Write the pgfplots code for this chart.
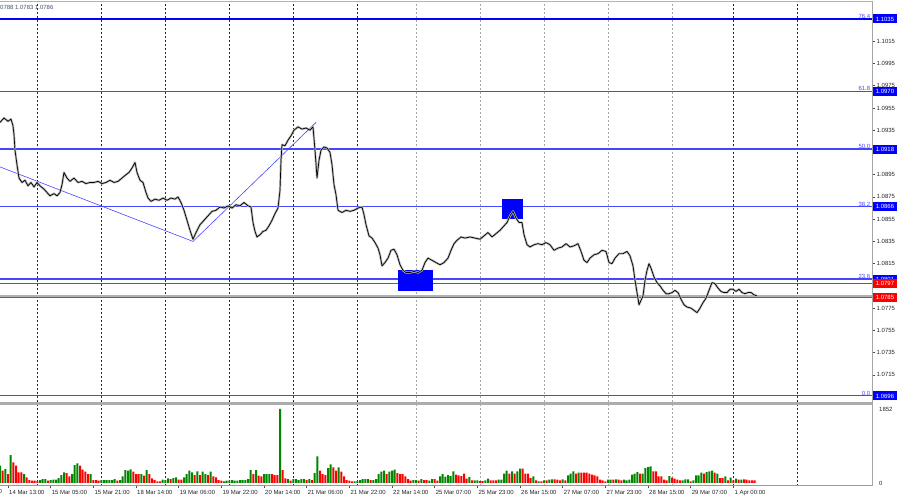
\documentclass[border=0pt]{standalone}
\usepackage{pgfplots}
\pgfplotsset{compat=1.18}
\usepackage{fontspec}
\setmainfont{Liberation Sans}
\definecolor{mtblue}{RGB}{0,0,255}
\definecolor{mtblueL}{RGB}{70,70,255}
\definecolor{mtred}{RGB}{255,30,30}
\definecolor{volgreen}{RGB}{0,135,0}
\definecolor{volred}{RGB}{255,0,0}
\definecolor{hdr}{RGB}{70,80,110}
\begin{document}
\begin{tikzpicture}[x=1bp,y=1bp]
\useasboundingbox (0,0) rectangle (900,500);
\fill[white] (0,0) rectangle (900,500);
\begin{axis}[
  at={(0bp,98bp)}, anchor=south west, scale only axis, width=872bp, height=400bp,
  xmin=0, xmax=872, ymin=1.069061, ymax=1.105029,
  axis line style={draw=none},
  xtick=\empty,
  ytick={1.0715,1.0735,1.0755,1.0775,1.0815,1.0835,1.0855,1.0875,1.0895,1.0935,1.0955,1.0975,1.0995,1.1015},
  ytick pos=right, yticklabel pos=right,
  tick align=outside, major tick length=3bp,
  tick style={black!70, line width=0.5bp},
  scaled y ticks=false,
  yticklabel style={font=\fontsize{6}{7}\selectfont, text=black!85, inner sep=1.5bp},
  /pgf/number format/fixed, /pgf/number format/fixed zerofill, /pgf/number format/precision=4,
  /pgf/number format/assume math mode=true,
  clip=false,
]
% day separators
\pgfplotsinvokeforeach{37,101,165,229,293,357,733,797}{
  \draw[black!85, line width=0.7bp, dash pattern=on 2bp off 2bp] (axis cs:#1,1.069061) -- (axis cs:#1,1.105029);}
\pgfplotsinvokeforeach{416,480,544,608,672}{
  \draw[gray!70, line width=0.7bp, dash pattern=on 2bp off 2bp] (axis cs:#1,1.069061) -- (axis cs:#1,1.105029);}
% fibonacci levels
\addplot[mtblue, line width=1.3bp] coordinates {(0,1.1035) (872,1.1035)};
\addplot[mtblueL, line width=1bp] coordinates {(0,1.0970) (872,1.0970)};
\addplot[mtblueL, line width=2.4bp] coordinates {(0,1.0918) (872,1.0918)};
\addplot[mtblueL, line width=1bp] coordinates {(0,1.0866) (872,1.0866)};
\addplot[mtblueL, line width=2.4bp] coordinates {(0,1.0801) (872,1.0801)};
\addplot[mtblueL, line width=1bp] coordinates {(0,1.0696) (872,1.0696)};
\addplot[gray!60, line width=1.2bp] coordinates {(0,1.0786) (872,1.0786)};
\addplot[mtred, line width=0.8bp] coordinates {(0,1.0785) (872,1.0785)};
\addplot[mtred, line width=0.8bp] coordinates {(0,1.0797) (872,1.0797)};
% blue boxes
\fill[blue] (axis cs:398,1.0790) rectangle (axis cs:433,1.0809);
\fill[blue] (axis cs:502,1.0855) rectangle (axis cs:523,1.0873);
% trend lines
\addplot[mtblueL, line width=0.6bp] coordinates {(0,1.0902) (193,1.0835) (316,1.0942)};
% price
\pgfplotstableread{
x p
0 1.0942
4 1.0946
8 1.0943
11 1.0945
13 1.0939
14 1.0931
15 1.0917
17 1.0904
19 1.0892
22 1.0888
25 1.0890
28 1.0885
31 1.0888
34 1.0884
37 1.0888
40 1.0885
44 1.0882
47 1.0879
50 1.0876
54 1.0878
57 1.0876
60 1.0879
62 1.0886
64 1.0897
67 1.0892
70 1.0889
74 1.0892
78 1.0888
82 1.0889
86 1.0887
90 1.0888
94 1.0888
98 1.0889
102 1.0887
106 1.0888
110 1.0890
114 1.0888
118 1.0889
122 1.0892
126 1.0895
129 1.0897
132 1.0901
135 1.0906
137 1.0897
140 1.0890
143 1.0888
146 1.0879
148 1.0874
151 1.0871
155 1.0873
159 1.0872
163 1.0874
167 1.0872
171 1.0874
175 1.0873
178 1.0875
181 1.0870
184 1.0863
187 1.0854
190 1.0845
193 1.0837
196 1.0843
200 1.0850
204 1.0854
208 1.0858
212 1.0862
216 1.0863
220 1.0866
224 1.0865
228 1.0867
232 1.0865
236 1.0868
240 1.0867
244 1.0870
248 1.0867
251 1.0866
253 1.0852
255 1.0844
257 1.0839
260 1.0841
263 1.0844
266 1.0845
269 1.0849
272 1.0854
275 1.0860
278 1.0865
280 1.0881
281 1.0908
282 1.0922
285 1.0921
288 1.0926
291 1.0930
294 1.0935
298 1.0938
302 1.0936
306 1.0937
310 1.0935
313 1.0938
315 1.0917
317 1.0892
319 1.0908
321 1.0917
324 1.0920
327 1.0919
330 1.0915
332 1.0904
334 1.0886
336 1.0877
338 1.0863
342 1.0861
346 1.0863
350 1.0862
354 1.0863
358 1.0865
362 1.0866
364 1.0859
366 1.0850
369 1.0840
372 1.0838
375 1.0834
378 1.0829
380 1.0823
382 1.0813
385 1.0816
388 1.0820
391 1.0827
394 1.0828
397 1.0823
400 1.0814
403 1.0809
406 1.0807
410 1.0807
414 1.0808
418 1.0807
422 1.0809
425 1.0816
428 1.0820
432 1.0818
436 1.0816
440 1.0814
444 1.0816
448 1.0820
451 1.0827
454 1.0833
457 1.0836
461 1.0839
465 1.0838
470 1.0839
475 1.0838
480 1.0837
484 1.0840
488 1.0843
492 1.0839
496 1.0842
500 1.0845
504 1.0849
507 1.0852
510 1.0858
513 1.0862
516 1.0856
519 1.0852
522 1.0852
524 1.0841
527 1.0832
530 1.0830
534 1.0832
538 1.0833
542 1.0832
546 1.0834
550 1.0832
554 1.0827
558 1.0829
562 1.0830
566 1.0833
570 1.0830
574 1.0831
578 1.0833
581 1.0826
584 1.0818
587 1.0816
590 1.0820
594 1.0823
598 1.0824
602 1.0827
606 1.0826
609 1.0816
612 1.0815
615 1.0820
619 1.0824
623 1.0824
627 1.0826
630 1.0822
633 1.0813
635 1.0800
637 1.0789
639 1.0778
641 1.0782
643 1.0786
645 1.0800
647 1.0809
649 1.0815
651 1.0811
654 1.0803
657 1.0798
660 1.0795
663 1.0791
666 1.0788
669 1.0788
672 1.0789
675 1.0791
678 1.0789
681 1.0783
684 1.0778
687 1.0776
691 1.0775
694 1.0773
697 1.0771
700 1.0775
703 1.0780
706 1.0784
709 1.0791
712 1.0798
715 1.0797
718 1.0793
721 1.0790
724 1.0789
727 1.0789
730 1.0792
733 1.0792
736 1.0790
739 1.0792
742 1.0789
745 1.0788
748 1.0789
751 1.0789
754 1.0787
757 1.0786
}\pricetable
\addplot[gray!55, line width=2.2bp, line join=round] table[x=x,y=p] {\pricetable};
\addplot[black, line width=0.7bp, line join=round] table[x=x,y=p] {\pricetable};
% fib labels
\begin{scope}[every node/.style={anchor=south east, inner sep=0.6bp, text=mtblueL, font=\fontsize{6}{7}\selectfont}]
\node at (axis cs:871,1.1035) {76.4};
\node at (axis cs:871,1.0970) {61.8};
\node at (axis cs:871,1.0918) {50.0};
\node at (axis cs:871,1.0866) {38.2};
\node at (axis cs:871,1.0801) {23.6};
\node at (axis cs:871,1.0696) {0.0};
\end{scope}
\coordinate (b1) at (axis cs:872,1.1035);
\coordinate (b2) at (axis cs:872,1.0970);
\coordinate (b3) at (axis cs:872,1.0918);
\coordinate (b4) at (axis cs:872,1.0866);
\coordinate (b5) at (axis cs:872,1.0801);
\coordinate (b6) at (axis cs:872,1.0696);
\coordinate (r1) at (axis cs:872,1.0797);
\coordinate (r2) at (axis cs:872,1.0785);
\end{axis}
% price boxes on the scale
\begin{scope}[every node/.style={anchor=west, inner xsep=2.6bp, inner ysep=0bp, minimum height=9bp, text=white, font=\fontsize{6}{7}\selectfont, xshift=1bp}]
\node[fill=mtblue] at (b1) {1.1035};
\node[fill=mtblue] at (b2) {1.0970};
\node[fill=mtblue] at (b3) {1.0918};
\node[fill=mtblue] at (b4) {1.0866};
\node[fill=mtblue] at (b5) {1.0801};
\node[fill=mtblue] at (b6) {1.0696};
\node[fill=volred] at (r1) {1.0797};
\node[fill=volred] at (r2) {1.0785};
\end{scope}
% volume panel
\begin{axis}[
  at={(0bp,14bp)}, anchor=south west, scale only axis, width=872bp, height=81bp,
  xmin=0, xmax=327, ymin=-75, ymax=1952,
  axis line style={draw=none},
  ytick={0,1852}, yticklabels={0,1852}, ytick pos=right, yticklabel pos=right,
  ytick style={draw=none},
  yticklabel style={font=\fontsize{6}{7}\selectfont, text=black!85, inner sep=1.5bp, xshift=3bp},
  xtick={3,19,35,51,67,83,99,115,131,147,163,179,195,211,227,243,259,275},
  xticklabels={14 Mar 13:00,15 Mar 05:00,15 Mar 21:00,18 Mar 14:00,19 Mar 06:00,19 Mar 22:00,20 Mar 14:00,21 Mar 06:00,21 Mar 22:00,22 Mar 14:00,25 Mar 07:00,25 Mar 23:00,26 Mar 15:00,27 Mar 07:00,27 Mar 23:00,28 Mar 15:00,29 Mar 07:00,1 Apr 00:00},
  xtick pos=bottom, tick align=outside, major tick length=2.5bp,
  xtick style={black!70, line width=0.5bp},
  xticklabel style={font=\fontsize{6}{7}\selectfont, text=black!85, anchor=north west, inner sep=0.5bp, yshift=-1bp, xshift=0.5bp},
  clip=false,
]
\pgfplotsinvokeforeach{14,38,62,86,110,134,275,299}{
  \draw[black!85, line width=0.7bp, dash pattern=on 2bp off 2bp] (axis cs:#1,-75) -- (axis cs:#1,1952);}
\pgfplotsinvokeforeach{156,180,204,228,252}{
  \draw[gray!70, line width=0.7bp, dash pattern=on 2bp off 2bp] (axis cs:#1,-75) -- (axis cs:#1,1952);}
\addplot[ybar, bar width=0.75, bar shift=0pt, fill=volgreen, draw=none] coordinates {
(0,433)(2,350)(4,700)(9,225)(15,75)(16,100)(17,100)(19,75)(20,83)(21,83)(22,125)(23,200)(24,267)(27,225)(28,450)(29,492)(34,225)(38,75)(39,75)(40,75)(41,75)(42,75)(43,100)(45,75)(46,167)(47,325)(48,308)(49,342)(53,225)(55,325)(61,83)(62,75)(63,117)(65,125)(66,142)(69,142)(70,225)(71,308)(72,267)(74,292)(76,283)(77,225)(79,283)(84,42)(85,58)(86,58)(87,75)(88,58)(89,58)(90,75)(91,75)(92,75)(93,100)(94,325)(96,325)(99,225)(100,225)(101,225)(105,1852)(108,100)(110,100)(111,100)(112,75)(113,100)(114,100)(116,100)(118,250)(119,667)(123,375)(124,467)(127,392)(133,42)(134,50)(135,75)(136,100)(137,100)(138,100)(140,75)(141,100)(142,225)(143,283)(144,308)(146,283)(147,308)(148,333)(155,75)(156,75)(158,100)(161,58)(162,100)(165,167)(166,225)(167,158)(168,200)
(169,175)(170,292)(176,150)(178,67)(179,67)(182,67)(183,108)(187,83)(188,83)(189,233)(190,308)(192,292)(194,292)(195,358)(200,167)(202,42)(204,67)(206,83)(207,92)(211,92)(213,192)(214,233)(215,292)(217,258)(228,83)(229,83)(231,92)(234,83)(235,67)(236,83)(237,208)(238,233)(239,275)(241,233)(242,375)(243,400)(244,417)(251,175)(256,67)(257,92)(258,92)(260,67)(261,192)(262,192)(263,258)(265,275)(266,292)(267,308)(269,233)(272,167)(274,133)(276,108)(278,83)
};
\addplot[ybar, bar width=0.75, bar shift=0pt, fill=volred, draw=none] coordinates {
(1,308)(3,225)(5,517)(6,433)(7,267)(8,267)(10,142)(11,75)(12,58)(13,58)(14,50)(18,58)(25,250)(26,167)(30,433)(31,333)(32,283)(33,225)(35,75)(36,75)(37,58)(44,58)(50,283)(51,225)(52,225)(54,183)(56,225)(57,117)(58,75)(59,42)(60,42)(64,100)(67,83)(68,83)(73,200)(75,200)(78,200)(80,167)(81,142)(82,75)(83,58)(95,225)(97,183)(98,167)(102,225)(103,200)(104,200)(106,325)(107,117)(109,58)(115,75)(117,75)(120,308)(121,225)(122,200)(125,392)(126,308)(128,283)(129,167)(130,75)(131,58)(132,42)(139,75)(145,225)(149,250)(150,225)(151,225)(152,167)(153,100)(154,58)(157,58)(159,75)(160,75)(163,100)(164,58)
(171,208)(172,192)(173,175)(174,233)(175,108)(177,67)(180,50)(181,50)(184,67)(185,67)(186,67)(191,233)(193,233)(196,358)(197,233)(198,233)(199,125)(201,67)(203,42)(205,67)(208,92)(209,83)(210,67)(212,67)(216,233)(218,258)(219,258)(220,258)(221,233)(222,208)(223,192)(224,167)(225,83)(226,67)(227,42)(230,83)(232,83)(233,67)(240,233)(245,292)(246,292)(247,167)(248,167)(249,83)(250,67)(252,133)(253,108)(254,83)(255,67)(259,42)(264,233)(268,258)(270,125)(271,125)(273,67)(275,67)(277,83)(279,92)(280,83)(281,67)(282,67)(283,67)
};
\end{axis}
% panel frames
\draw[gray!60, line width=1bp] (0,498.5) -- (872,498.5);
\draw[gray!65, line width=2.6bp] (0,96.5) -- (872,96.5);
\draw[gray!80, line width=1bp] (0,14) -- (872,14);
\draw[gray!70, line width=1bp] (872,14) -- (872,498.5);
% header and cut label
\node[anchor=west, inner sep=0, text=hdr, font=\fontsize{6}{7}\selectfont] at (0,493) {0788 1.0783 1.0786};
\node[anchor=west, inner sep=0, text=black!85, font=\fontsize{6}{7}\selectfont] at (-1.5,8.5) {0};
\end{tikzpicture}
\end{document}
